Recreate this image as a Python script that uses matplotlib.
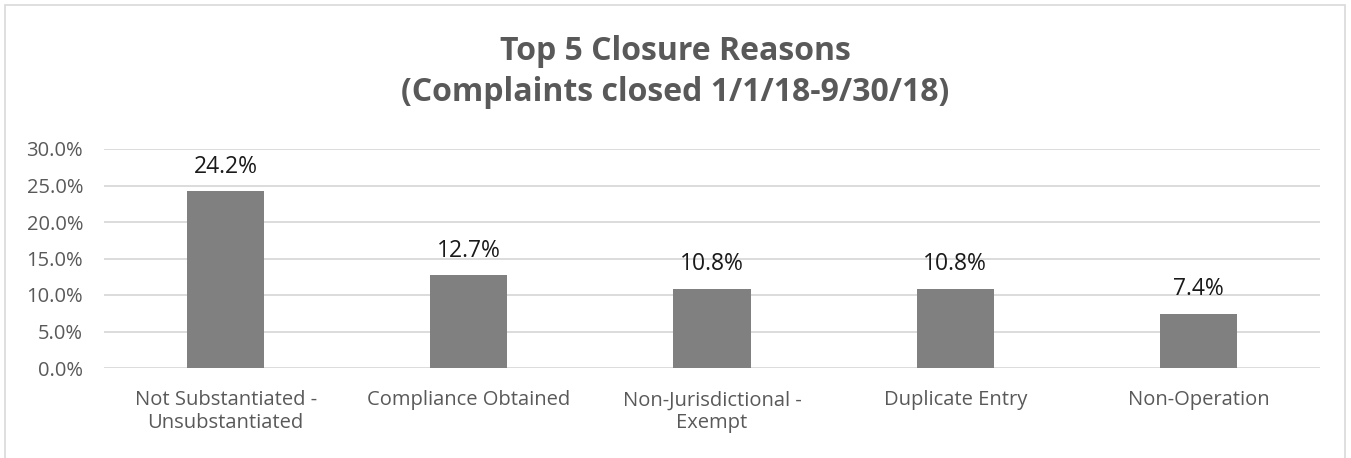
import matplotlib.pyplot as plt
from matplotlib.patches import Rectangle
from matplotlib.ticker import FuncFormatter

categories = ['Not Substantiated -\nUnsubstantiated', 'Compliance Obtained',
              'Non-Jurisdictional -\nExempt', 'Duplicate Entry', 'Non-Operation']
values = [24.2, 12.7, 10.8, 10.8, 7.4]
labels = ['24.2%', '12.7%', '10.8%', '10.8%', '7.4%']
title_lines = ['Top 5 Closure Reasons', '(Complaints closed 1/1/18-9/30/18)']

plt.rcParams['font.family'] = ['Open Sans', 'DejaVu Sans']

W, H = 1351, 458
fig = plt.figure(figsize=(W / 100, H / 100), dpi=100)
ax = fig.add_axes([104 / W, 1 - 368 / H, (1320 - 104) / W, (368 - 149) / H])

x = range(len(categories))
bars = ax.bar(x, values, width=0.317, color='#808080', zorder=3)
for b, lab in zip(bars, labels):
    ax.annotate(lab, (b.get_x() + b.get_width() / 2, b.get_height()),
                xytext=(0, 13.5), textcoords='offset points',
                ha='center', va='baseline', fontsize=16.5, color='#1a1a1a')

ax.set_xlim(-0.5, len(categories) - 0.5)
ax.set_ylim(0, 30)
ax.set_yticks([0, 5, 10, 15, 20, 25, 30])
ax.yaxis.set_major_formatter(FuncFormatter(lambda v, p: f'{v:.1f}%'))
ax.set_xticks(list(x))
ax.set_xticklabels(categories, linespacing=1.2)
ax.tick_params(axis='both', length=0, labelsize=14.5, labelcolor='#595959')
ax.tick_params(axis='x', pad=16)
ax.tick_params(axis='y', pad=15)
ax.grid(axis='y', color='#d9d9d9', linewidth=1.3, zorder=0)
for s in ax.spines.values():
    s.set_visible(False)

# two title lines, placed by baseline
for line, base_y in zip(title_lines, [60, 101]):
    fig.text(0.5, 1 - base_y / H, line, ha='center', va='baseline',
             fontsize=23, fontweight='bold', color='#595959')

# outer chart border
fig.patches.append(Rectangle((5 / W, -0.01), (1345 - 5) / W, 1.0, transform=fig.transFigure,
                             fill=False, edgecolor='#d9d9d9', linewidth=1.2))

plt.savefig('out.png', dpi=100)
plt.close()
